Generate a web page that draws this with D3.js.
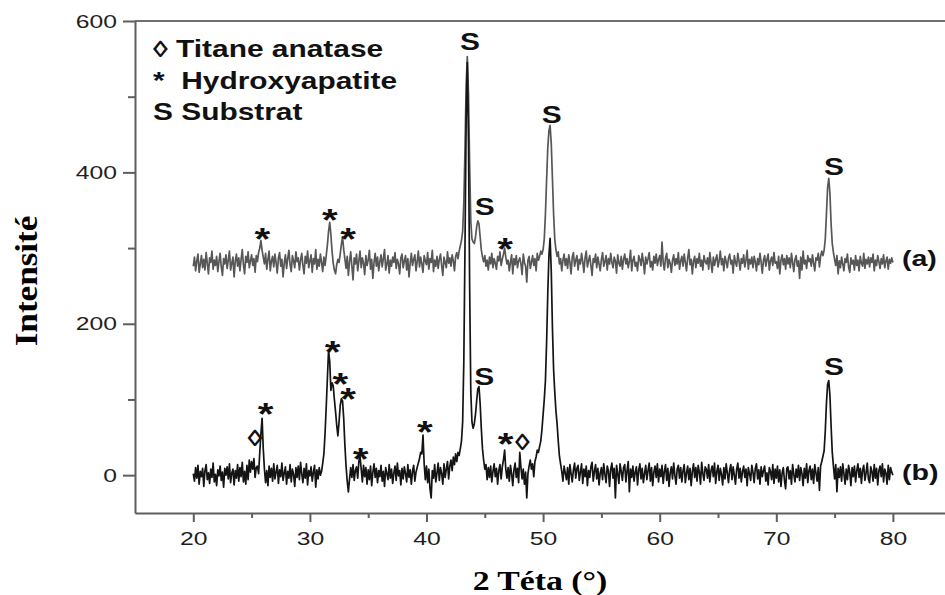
<!DOCTYPE html>
<html>
<head>
<meta charset="utf-8">
<script src="https://cdn.jsdelivr.net/npm/d3@7"></script>
<style>
  body { margin: 0; background: #fff; }
  svg { display: block; }
</style>
</head>
<body>
<div id="chart"></div>
<script>
// --- data (2θ from 20 to 80 by 0.1°) ---
const xTicks = [20, 30, 40, 50, 60, 70, 80];
const xMinorTicks = [25, 35, 45, 55, 65, 75, 85];
const yTicks = [0, 200, 400, 600];
const yMinorTicks = [100, 300, 500];

const intensityA = [
  276, 288, 270, 283, 292, 268, 279, 290, 274, 285,
  271, 294, 280, 266, 287, 281, 296, 272, 284, 277,
  289, 269, 282, 293, 275, 264, 286, 279, 291, 273,
  284, 296, 271, 280, 288, 262, 283, 292, 276, 287,
  270, 285, 298, 278, 266, 289, 281, 295, 274, 283,
  291, 277, 286, 268, 290, 282, 294, 300, 310, 297,
  288, 279, 293, 272, 285, 296, 270, 283, 289, 275,
  292, 281, 267, 287, 294, 276, 285, 262, 280, 291,
  273, 286, 297, 278, 269, 290, 283, 274, 295, 282,
  287, 271, 284, 293, 277, 266, 289, 280, 296, 274,
  283, 291, 268, 286, 279, 298, 272, 285, 276, 292,
  281, 269, 288, 277, 290, 304, 322, 334, 318, 296,
  280, 271, 266, 278, 285, 281, 292, 305, 315, 298,
  286, 273, 289, 264, 282, 295, 276, 258, 287, 279,
  292, 270, 283, 296, 274, 287, 280, 265, 290, 277,
  284, 297, 272, 285, 260, 281, 293, 276, 288, 270,
  282, 291, 275, 286, 298, 271, 279, 290, 267, 284,
  276, 288, 281, 294, 273, 285, 279, 266, 287, 292,
  274, 283, 290, 271, 286, 262, 280, 293, 277, 285,
  291, 270, 282, 296, 275, 288, 279, 268, 290, 283,
  278, 294, 272, 286, 281, 297, 269, 284, 276, 289,
  273, 285, 292, 277, 264, 288, 281, 274, 295, 280,
  287, 276, 291, 283, 270, 289, 294, 286, 296, 303,
  310, 322, 360, 430, 515, 553, 505, 410, 335, 312,
  308, 306, 314, 328, 336, 332, 315, 298, 288, 282,
  290, 276, 284, 271, 288, 279, 293, 274, 286, 280,
  272, 289, 283, 295, 277, 285, 292, 300, 288, 279,
  284, 270, 281, 291, 266, 286, 278, 290, 274, 283,
  287, 279, 265, 292, 281, 276, 255, 284, 289, 273,
  281, 290, 277, 286, 270, 293, 284, 289, 296, 292,
  298, 312, 345, 390, 432, 455, 462, 438, 392, 345,
  312, 298, 289, 295, 279, 286, 270, 284, 292, 277,
  286, 273, 291, 281, 266, 288, 294, 276, 284, 290,
  271, 285, 279, 293, 282, 268, 287, 296, 275, 283,
  290, 277, 264, 286, 281, 292, 274, 288, 279, 270,
  285, 294, 276, 282, 290, 271, 286, 279, 293, 281,
  274, 288, 283, 267, 291, 280, 276, 289, 272, 285,
  292, 279, 286, 274, 283, 297, 270, 284, 289, 276,
  281, 270, 290, 285, 277, 293, 282, 266, 288, 279,
  286, 294, 275, 282, 271, 289, 280, 292, 277, 285,
  290, 276, 308, 281, 271, 287, 293, 274, 285, 280,
  268, 284, 291, 277, 286, 279, 294, 272, 283, 289,
  276, 292, 281, 270, 287, 298, 278, 285, 266, 283,
  289, 274, 286, 280, 293, 276, 284, 271, 290, 282,
  279, 287, 272, 294, 281, 268, 288, 277, 285, 291,
  275, 283, 296, 278, 286, 270, 289, 282, 274, 287,
  292, 279, 284, 267, 290, 281, 276, 293, 283, 271,
  286, 280, 291, 275, 284, 297, 272, 285, 279, 288,
  274, 289, 282, 270, 286, 278, 293, 281, 267, 284,
  290, 276, 285, 292, 271, 283, 288, 277, 294, 280,
  282, 273, 289, 266, 284, 291, 278, 286, 272, 290,
  279, 287, 274, 293, 281, 269, 285, 290, 276, 283,
  260, 288, 271, 296, 279, 284, 273, 290, 282, 286,
  276, 291, 280, 270, 287, 284, 293, 275, 289, 296,
  290, 297, 312, 345, 380, 392, 372, 332, 306, 294,
  285, 277, 290, 266, 283, 274, 288, 279, 270, 286,
  281, 292, 275, 268, 287, 279, 284, 271, 290, 277,
  284, 270, 289, 280, 276, 293, 273, 285, 279, 288,
  275, 287, 281, 292, 270, 284, 277, 290, 282, 273,
  286, 279, 291, 274, 283, 288, 272, 285, 280, 287,
  281
];

const intensityB = [
  2, -8, 10, -4, 13, -12, 5, -2, 9, -15,
  6, 14, -6, 3, -11, 8, -3, 16, -9, 1,
  -14, 7, -1, 12, -7, 4, -16, 9, 0, 11,
  -5, 15, -10, 3, 8, -13, 6, -4, 14, -8,
  10, -2, 17, -9, 5, -12, 13, -6, 20, 4,
  18, 8, 22, -3, 10, 12, 2, 30, 55, 75,
  35, 8, -10, 6, -14, 12, -3, 9, -8, 15,
  -5, 4, 13, -11, 7, -2, 16, -7, 3, 11,
  -12, 5, -4, 14, -9, 8, 1, -15, 10, -3,
  12, -6, 17, 2, -10, 9, -4, 15, -13, 6,
  -1, 11, -8, 4, 13, -16, 7, -5, 10, 0,
  5, 16, 28, 55, 90, 128, 165, 150, 112, 122,
  118, 100, 84, 66, 52, 70, 92, 101, 98, 75,
  40, 12, -8, -22, -5, 10, -3, 14, -7, 6,
  11, -4, 18, 25, 8, -9, 13, -2, 10, -12,
  7, -6, 12, -14, 4, 15, -3, 9, -10, 6,
  -2, 13, -8, 5, -15, 10, 2, -6, 14, -4,
  8, -11, 3, 12, -7, 16, -1, 6, -13, 9,
  -5, 11, 2, -9, 14, -3, 7, -12, 5, 13,
  -8, 4, 10, 16, 22, 30, 28, 53, 15, -6,
  12, -10, 8, -18, -30, 6, -4, 14, -9, 3,
  16, -7, 10, 2, -12, 15, -3, 8, 18, -5,
  12, 20, 6, 24, 14, 28, 18, 30, 26, 35,
  45, 70, 150, 300, 470, 545, 440, 250, 110, 70,
  62, 68, 80, 98, 114, 117, 95, 62, 35, 20,
  8, 14, -6, 10, -3, 12, -9, 5, 15, -2,
  9, -12, 6, 14, -5, 11, 20, 33, 8, -4,
  10, -8, 13, 2, -14, 7, 16, -3, 9, -10,
  30, 10, -5, 8, -12, 4, -30, 2, 12, 20,
  8, 15, -2, 18, 24, 33, 30, 38, 45, 60,
  80, 100, 125, 175, 240, 290, 313, 270, 195, 140,
  110, 85, 68, 45, 25, 15, 5, -8, 12, 3,
  -6, 10, -12, 14, 2, -9, 7, 16, -4, 9,
  13, -7, 4, 15, -11, 8, -2, 12, -14, 6,
  -3, 11, 17, -8, 5, 14, -5, 9, -13, 3,
  10, -6, 15, 1, -10, 12, 6, -15, 8, 16,
  -4, 9, -30, 13, 2, -11, 15, 5, -7, 10,
  14, -9, 6, 18, -22, 8, -3, 12, -8, 4,
  11, -13, 7, 15, -5, 9, -10, 2, 13, -6,
  6, 16, -8, 10, -14, 4, 12, -3, 15, -9,
  8, -2, 13, -11, 5, 14, -7, 9, -15, 3,
  11, -5, 16, 0, -12, 8, 13, -4, 10, -9,
  6, 14, -10, 3, 12, -6, 9, -14, 5, 15,
  -3, 10, -8, 13, 4, -12, 17, 2, -7, 11,
  8, -4, 14, -9, 6, 12, -2, 16, -11, 5,
  13, -7, 9, 1, -13, 10, -5, 15, 3, -10,
  7, 14, -6, 11, 0, -12, 8, 16, -4, 9,
  -9, 5, 12, -3, 8, -14, 10, 2, -7, 13,
  4, -10, 9, 15, -5, 7, -12, 11, -2, 6,
  12, -8, 3, -13, 10, 5, -6, 14, -11, 8,
  -4, 12, -9, 7, -15, 3, 10, -7, -18, 9,
  11, -5, 6, -12, 14, 1, -9, 8, -3, 13,
  -7, 10, 2, -14, 9, -4, 15, -10, 6, 12,
  -6, 8, -11, 14, 3, -8, 10, -20, 12, 18,
  25, 32, 58, 95, 120, 125, 105, 65, 30, 12,
  -5, 14, -22, 9, -3, 11, -8, 15, 2, -12,
  8, -6, 13, 4, -14, 10, -2, 12, -9, 6,
  15, -3, 9, -11, 7, 13, -7, 3, 16, -5,
  -10, 11, 5, -8, 14, -4, 9, -13, 6, 12,
  -2, 15, -9, 8, 3, -12, 13, -6, 10, 4,
  0
];

const twoTheta = d3.range(intensityA.length).map(i => 20 + i / 10);

const seriesNames = ["(a)", "(b)"];
const seriesLabelY = [285, 2];

// peak markers: symbol, 2θ, intensity at the symbol's centre
const peakMarks = [
  { t: "*", x: 25.93, y: 320 },
  { t: "*", x: 31.72, y: 345 },
  { t: "*", x: 33.27, y: 321 },
  { t: "S", x: 43.73, y: 573 },
  { t: "S", x: 45.0, y: 354 },
  { t: "*", x: 46.73, y: 307 },
  { t: "S", x: 50.74, y: 476 },
  { t: "S", x: 74.95, y: 407 },
  { t: "◊", x: 25.29, y: 49 },
  { t: "*", x: 26.2, y: 89 },
  { t: "*", x: 31.94, y: 171 },
  { t: "*", x: 32.62, y: 129 },
  { t: "*", x: 33.28, y: 109 },
  { t: "*", x: 34.34, y: 30 },
  { t: "*", x: 39.85, y: 65 },
  { t: "S", x: 44.96, y: 130 },
  { t: "*", x: 46.79, y: 49 },
  { t: "◊", x: 48.23, y: 44 },
  { t: "S", x: 74.95, y: 143 }
];

const legendLabels = ["◊ Titane anatase", "*  Hydroxyapatite", "S Substrat"];

// --- layout ---
const width = 945, height = 595;
const stretch = 1.3;   // the source figure is drawn a bit wide
const sans = "'Liberation Sans', Arial, sans-serif";
const serif = "'Liberation Serif', 'Times New Roman', serif";

const svg = d3.select("#chart").append("svg")
    .attr("width", width)
    .attr("height", height);

const x = d3.scaleLinear().domain([15, 85]).range([135, 951.2]);
const y = d3.scaleLinear().domain([-50, 600]).range([513, 21]);

const axisColor = "#5e5e5e";

// top frame line
svg.append("line")
    .attr("x1", x(15)).attr("x2", x(85))
    .attr("y1", y(600)).attr("y2", y(600))
    .attr("stroke", "#707070")
    .attr("stroke-width", 2);

// minor ticks
svg.append("g")
    .attr("transform", `translate(0,${y(-50)})`)
    .call(d3.axisBottom(x).tickValues(xMinorTicks).tickSize(5).tickFormat(""))
    .call(g => g.select(".domain").remove())
    .selectAll("line").attr("stroke", axisColor).attr("stroke-width", 2);

svg.append("g")
    .attr("transform", `translate(${x(15)},0)`)
    .call(d3.axisLeft(y).tickValues(yMinorTicks).tickSize(7).tickFormat(""))
    .call(g => g.select(".domain").remove())
    .selectAll("line").attr("stroke", axisColor).attr("stroke-width", 2);

// main axes
const xAxis = svg.append("g")
    .attr("transform", `translate(0,${y(-50)})`)
    .call(d3.axisBottom(x).tickValues(xTicks).tickSize(9).tickSizeOuter(0));

const yAxis = svg.append("g")
    .attr("transform", `translate(${x(15)},0)`)
    .call(d3.axisLeft(y).tickValues(yTicks).tickSize(12).tickSizeOuter(0));

[xAxis, yAxis].forEach(ax => {
    ax.select(".domain").attr("stroke", axisColor).attr("stroke-width", 2);
    ax.selectAll(".tick line").attr("stroke", axisColor).attr("stroke-width", 2);
    ax.selectAll(".tick text")
        .attr("fill", "#1e1e1e")
        .style("font-family", sans)
        .style("font-size", "19px")
        .attr("transform", `scale(${stretch},1)`);
});
xAxis.selectAll(".tick text").attr("y", 32).attr("dy", 0);
yAxis.selectAll(".tick text").attr("x", -18 / stretch);

// the two patterns
const line = d3.line()
    .x((d, i) => x(twoTheta[i]))
    .y(d => y(d));

svg.append("path")
    .datum(intensityA)
    .attr("fill", "none")
    .attr("stroke", "#575757")
    .attr("stroke-width", 1.7)
    .attr("stroke-linejoin", "round")
    .attr("d", line);

svg.append("path")
    .datum(intensityB)
    .attr("fill", "none")
    .attr("stroke", "#141414")
    .attr("stroke-width", 1.7)
    .attr("stroke-linejoin", "round")
    .attr("d", line);

// peak symbols
const markSize = { "*": 31, "S": 23, "◊": 23 };
const markDy = { "*": "0.56em", "S": "0.36em", "◊": "0.36em" };

svg.selectAll(".mark")
    .data(peakMarks)
    .join("text")
    .attr("class", "mark")
    .attr("transform", d => `translate(${x(d.x)},${y(d.y)}) scale(${stretch},1)`)
    .attr("dy", d => markDy[d.t])
    .attr("text-anchor", "middle")
    .style("font-family", sans)
    .style("font-weight", "bold")
    .style("font-size", d => markSize[d.t] + "px")
    .attr("fill", "#111")
    .text(d => d.t);

// (a) / (b)
svg.selectAll(".series-label")
    .data(seriesNames)
    .join("text")
    .attr("class", "series-label")
    .attr("transform", (d, i) => `translate(${x(80) + 9},${y(seriesLabelY[i])}) scale(${stretch},1)`)
    .attr("dy", "0.3em")
    .style("font-family", sans)
    .style("font-weight", "bold")
    .style("font-size", "22px")
    .attr("fill", "#111")
    .text(d => d);

// legend
svg.selectAll(".legend")
    .data(legendLabels)
    .join("text")
    .attr("class", "legend")
    .attr("transform", (d, i) => `translate(153,${57 + i * 31.7}) scale(${stretch},1)`)
    .style("white-space", "pre")
    .style("font-family", sans)
    .style("font-weight", "bold")
    .style("font-size", "23px")
    .attr("fill", "#111")
    .text(d => d);

// axis titles
svg.append("text")
    .attr("transform", `translate(540,590) scale(1.25,1)`)
    .attr("text-anchor", "middle")
    .style("font-family", serif)
    .style("font-weight", "bold")
    .style("font-size", "27px")
    .attr("fill", "#000")
    .text("2 Téta (°)");

svg.append("text")
    .attr("transform", `translate(37,281) rotate(-90) scale(1.3,1.15)`)
    .attr("text-anchor", "middle")
    .style("font-family", serif)
    .style("font-weight", "bold")
    .style("font-size", "27px")
    .attr("fill", "#000")
    .text("Intensité");
</script>
</body>
</html>
